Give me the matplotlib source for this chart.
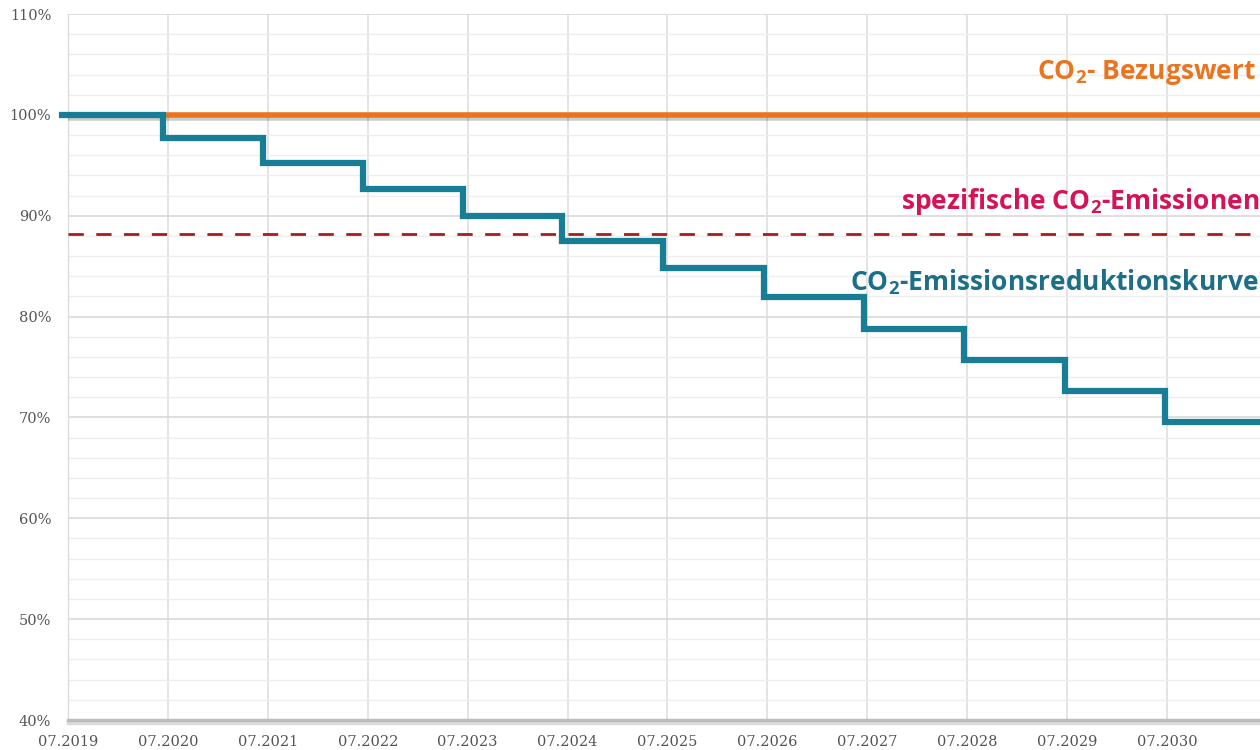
import numpy as np
import matplotlib.pyplot as plt
import matplotlib.patheffects as pe
from matplotlib.ticker import MultipleLocator, FuncFormatter

# reduction curve: level holds from each start until the next step
step_x = [2018.94, 2019.95, 2020.95, 2021.95, 2022.95, 2023.94,
          2024.96, 2025.97, 2026.97, 2027.97, 2028.98, 2029.98]
step_y = [100.0, 97.7, 95.2, 92.6, 90.0, 87.5,
          84.8, 81.9, 78.8, 75.7, 72.6, 69.5]
x_end = 2031.2

bezugswert = 100.0
spez_emissionen = 88.2

years = list(range(2019, 2031))
year_labels = ["07.%d" % y for y in years]

orange = "#ea7420"
crimson = "#d4145a"
teal = "#177e95"
darkred = "#a51d1d"

plt.rcParams["mathtext.fontset"] = "custom"
plt.rcParams["mathtext.rm"] = "Open Sans:bold"
plt.rcParams["mathtext.bf"] = "Open Sans:bold"

fig = plt.figure(figsize=(12.6, 7.5), dpi=100)
ax = fig.add_axes([68/1260, 30/750, 1 - 68/1260, 1 - 44/750])

ax.set_xlim(2019, 2019 + 1192/99.9)
ax.set_ylim(40, 110)

ax.xaxis.set_major_locator(plt.FixedLocator(years))
ax.set_xticklabels(year_labels)
ax.yaxis.set_major_locator(MultipleLocator(10))
ax.yaxis.set_minor_locator(MultipleLocator(2))
ax.yaxis.set_major_formatter(FuncFormatter(lambda v, p: "%d%%" % v))

ax.grid(True, which="major", axis="y", color="#d9d9d9", lw=1.2)
ax.grid(True, which="major", axis="x", color="#dcdcdc", lw=1.1)
ax.grid(True, which="minor", axis="y", color="#eeeeee", lw=1.0)
ax.set_axisbelow(True)

for s in ["top", "right"]:
    ax.spines[s].set_visible(False)
ax.spines["left"].set_color("#dddddd")
ax.spines["left"].set_linewidth(1.0)
ax.spines["bottom"].set_color("#bdbdbd")
ax.spines["bottom"].set_linewidth(2.5)
ax.spines["bottom"].set_path_effects([
    pe.SimpleLineShadow(offset=(0, -2), shadow_color="#999999", alpha=0.35),
    pe.Normal()])

ax.tick_params(axis="both", which="both", length=0, labelsize=10.5,
               labelcolor="#555555")
ax.tick_params(axis="x", pad=11)
ax.tick_params(axis="y", pad=12)
for lab in ax.get_xticklabels() + ax.get_yticklabels():
    lab.set_family("DejaVu Serif")

ax.axhline(bezugswert, color=orange, lw=4, zorder=3,
           path_effects=[pe.SimpleLineShadow(offset=(0, -2), alpha=0.2),
                         pe.Normal()])
ax.axhline(spez_emissionen, color=darkred, lw=2, ls=(0, (5.5, 4.5)), zorder=3)

xs = step_x + [x_end]
ys = step_y + [step_y[-1]]
ax.step(xs, ys, where="post", color=teal, lw=4.5, zorder=4,
        solid_joinstyle="miter", clip_on=False)

fam = ["Open Sans", "DejaVu Sans"]
fs = 19
ax.text(1.0 - 4/1192, 104.2, r"CO$_2$- Bezugswert",
        transform=ax.get_yaxis_transform(), ha="right", va="center",
        color=orange, fontsize=fs, weight="bold", family=fam)
ax.text(1.0 - 1/1192, 91.4, r"spezifische CO$_2$-Emissionen",
        transform=ax.get_yaxis_transform(), ha="right", va="center",
        color=crimson, fontsize=fs, weight="bold", family=fam)
ax.text(1.0 - 1/1192, 83.4, r"CO$_2$-Emissionsreduktionskurve",
        transform=ax.get_yaxis_transform(), ha="right", va="center",
        color="#1c6f86", fontsize=fs, weight="bold", family=fam)

fig.savefig("out.png", dpi=100)
